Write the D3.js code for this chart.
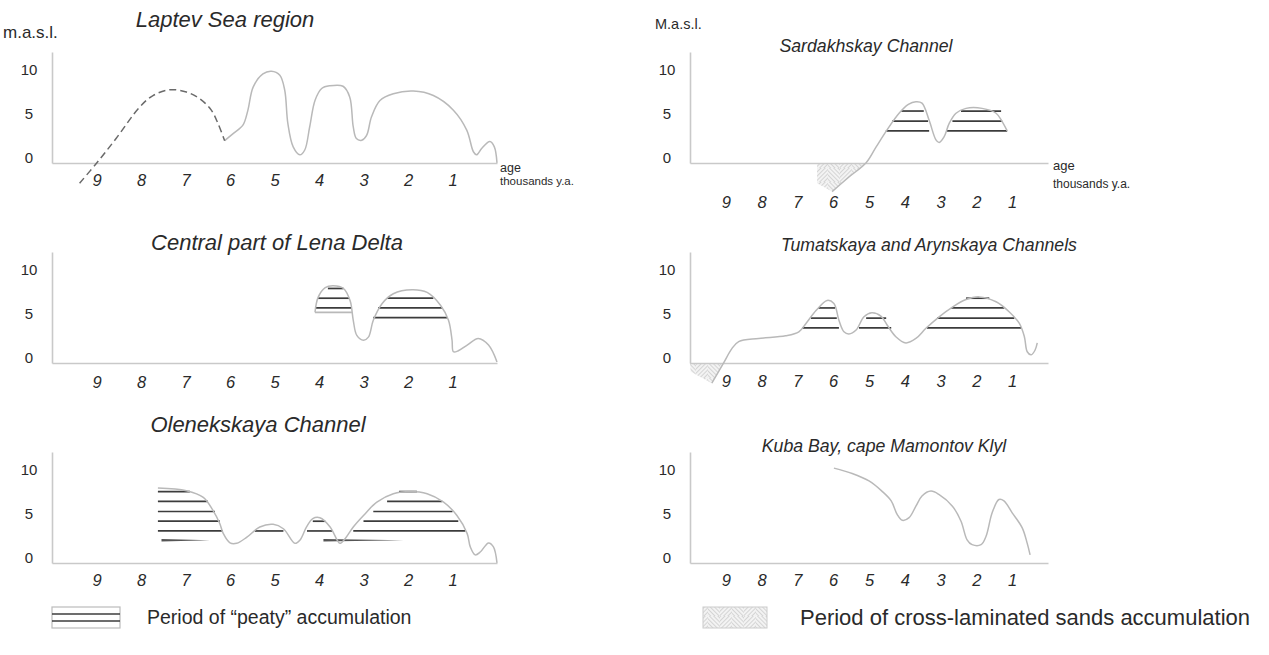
<!DOCTYPE html>
<html><head><meta charset="utf-8">
<script src="https://cdn.jsdelivr.net/npm/d3@7"></script>
<style>
body{margin:0;background:#fff;}
svg{display:block;font-family:"Liberation Sans",Arial,Helvetica,sans-serif;}
</style></head><body>
<svg id="c" width="1269" height="655"></svg>
<script>
// ---------------- data ----------------
const ageTicks = [9,8,7,6,5,4,3,2,1];
const levelTicks = [0,5,10];
const panelTitles = ["Laptev Sea region","Central part of Lena Delta","Olenekskaya Channel",
  "Sardakhskay Channel","Tumatskaya and Arynskaya Channels","Kuba Bay, cape Mamontov Klyl"];
const legendLabels = ["Period of \u201cpeaty\u201d accumulation","Period of cross-laminated sands accumulation"];

// [age (thousands y.a.), level (m.a.s.l.)]
const laptevDashed = [[9.38,-2.9],[9.0,-0.65],[8.56,2.15],[8.03,5.7],[7.73,7.0],[7.36,7.65],[6.98,7.4],[6.68,6.65],[6.42,5.35],[6.27,3.85],[6.12,1.9]];
const laptevCurve = [[6.12,1.9],[5.93,2.7],[5.71,3.65],[5.6,5.3],[5.48,7.95],[5.26,9.45],[5.07,9.75],[4.88,9.3],[4.77,7.6],[4.7,3.85],[4.58,1.2],[4.43,0.3],[4.32,0.85],[4.21,3.45],[4.09,6.45],[3.94,7.8],[3.76,8.1],[3.46,8.05],[3.31,6.85],[3.23,3.45],[3.16,2.15],[3.04,1.95],[2.93,2.5],[2.82,4.6],[2.63,6.45],[2.33,7.2],[1.88,7.5],[1.43,7.0],[0.98,5.35],[0.68,3.1],[0.53,0.65],[0.46,0.3],[0.34,1.05],[0.16,1.8],[0.06,1.2],[0.0,-0.6]];

const lenaCurve = [[4.09,5.1],[4.02,6.8],[3.86,7.9],[3.68,8.1],[3.45,7.8],[3.30,6.4],[3.23,4.2],[3.15,2.5],[3.0,1.95],[2.89,2.3],[2.78,4.2],[2.58,6.1],[2.33,7.2],[1.91,7.65],[1.57,7.35],[1.27,5.9],[1.09,4.2],[1.01,1.95],[0.98,0.65],[0.87,0.76],[0.67,1.4],[0.42,2.15],[0.19,1.4],[0.0,-0.5]];
const lenaBase = [[5.1,4.09,3.26]];
const lenaHatch = [[7.8,3.8,3.45],[6.7,4.02,3.32],[5.6,4.09,3.26],[6.7,2.47,1.43],[5.6,2.67,1.23],[4.5,2.78,1.12]];

const olenekCurve = [[7.62,7.85],[6.98,7.55],[6.6,6.8],[6.38,5.3],[6.23,3.85],[6.15,2.7],[6.0,1.65],[5.85,1.6],[5.62,2.3],[5.33,3.45],[5.03,3.75],[4.8,3.25],[4.54,1.6],[4.43,1.95],[4.28,3.45],[4.14,4.4],[3.98,4.5],[3.75,3.45],[3.59,1.95],[3.53,1.6],[3.41,2.15],[3.23,3.45],[3.0,4.75],[2.7,6.25],[2.33,7.2],[1.95,7.45],[1.57,7.2],[1.2,6.25],[0.9,4.75],[0.67,2.7],[0.6,1.2],[0.49,0.3],[0.37,0.65],[0.19,1.65],[0.08,1.2],[0.0,-0.6]];
const olenekHatch = [[7.45,7.62,6.9],[6.35,7.62,6.5],[5.2,7.62,6.34],[4.1,7.62,6.23],[3.0,7.62,6.16],
  [3.0,5.44,4.8],[3.0,4.27,3.7],[4.1,4.14,3.86],
  [7.45,2.2,1.8],[6.35,2.47,1.23],[5.2,2.78,1.0],[4.1,3.0,0.87],[3.0,3.23,0.71]];
const olenekTaper = [[1.95,7.54,6.45],[1.95,3.9,2.1]];

const sardCurve = [[6.03,-3.85],[5.56,-2.2],[5.08,-0.6],[4.8,1.2],[4.5,3.1],[4.16,5.0],[3.9,6.0],[3.69,6.3],[3.52,6.15],[3.32,4.2],[3.13,2.0],[3.04,1.7],[2.9,2.35],[2.76,3.85],[2.57,5.0],[2.29,5.55],[1.84,5.55],[1.45,5.0],[1.28,4.05],[1.14,3.0]];
const sardHatch = [[5.25,4.1,3.47],[4.1,4.35,3.35],[3.0,4.53,3.32],[5.25,2.43,1.31],[4.1,2.67,1.28],[3.0,2.82,1.14]];
const sardSands = [[6.45,-0.62],[5.1,-0.62],[6.03,-3.85],[6.45,-2.9]];

const tumatCurve = [[9.39,-2.9],[9.06,-0.6],[8.83,1.0],[8.64,1.8],[8.08,2.15],[7.33,2.45],[6.96,2.9],[6.76,3.85],[6.48,5.3],[6.17,6.45],[5.98,6.1],[5.84,4.2],[5.7,2.9],[5.56,2.65],[5.36,3.1],[5.14,4.6],[4.92,5.05],[4.66,4.65],[4.49,3.65],[4.25,2.35],[3.97,1.65],[3.69,2.15],[3.41,3.3],[3.04,4.6],[2.67,5.7],[2.29,6.55],[1.92,6.85],[1.45,6.3],[1.08,5.15],[0.8,3.85],[0.66,2.35],[0.58,0.65],[0.47,0.3],[0.36,0.85],[0.3,1.65]];
const tumatHatch = [[5.6,6.42,5.95],[4.45,6.62,5.9],[3.35,6.87,5.84],[4.45,5.08,4.52],[3.35,5.28,4.38],[6.7,2.29,1.64],[5.6,2.71,1.22],[4.45,3.1,0.94],[3.35,3.38,0.75]];
const tumatSands = [[10.0,-0.62],[9.06,-0.62],[9.39,-2.9],[9.98,-1.6]];

const kubaCurve = [[5.98,10.1],[5.47,9.5],[5.0,8.65],[4.64,7.5],[4.38,6.4],[4.21,4.85],[4.07,4.2],[3.88,4.5],[3.69,5.8],[3.52,6.95],[3.27,7.5],[3.04,7.1],[2.67,5.8],[2.43,4.1],[2.26,2.0],[2.12,1.45],[1.87,1.45],[1.73,2.4],[1.56,5.05],[1.37,6.55],[1.23,6.4],[1.0,5.05],[0.72,3.35],[0.58,1.6],[0.5,0.3]];

// ---------------- layout ----------------
const svg = d3.select("#c");
const AX = "#c9c9c9", CURVE = "#b9b9b9", HATCH = "#3c3c3c", TXT = "#2a2a2a";

const defs = svg.append("defs");
function diag(id, ang){
  const p = defs.append("pattern").attr("id", id).attr("patternUnits","userSpaceOnUse")
    .attr("width",3).attr("height",3).attr("patternTransform",`rotate(${ang})`);
  p.append("line").attr("x1",0).attr("y1",0).attr("x2",0).attr("y2",3)
    .attr("stroke","#9a9a9a").attr("stroke-width",0.7);
}
diag("diagA",45); diag("diagB",-45);
const px = defs.append("pattern").attr("id","xlam").attr("patternUnits","userSpaceOnUse")
  .attr("width",24).attr("height",14);
px.append("rect").attr("width",24).attr("height",14).attr("fill","#f3f3f3");
px.append("rect").attr("width",12).attr("height",14).attr("fill","url(#diagA)");
px.append("rect").attr("x",12).attr("width",12).attr("height",14).attr("fill","url(#diagB)");

const cols = {left:{x0:52,x1:497,tf:22}, right:{x0:690,x1:1048,tf:17.7}};
const panels = [
  {col:"left", top:0,   title:panelTitles[0], tx:225, ty:27, tick:23, curves:[laptevCurve], dashed:laptevDashed},
  {col:"left", top:200, title:panelTitles[1], tx:277, ty:250, tick:25, curves:[lenaCurve], hatch:lenaHatch, base:lenaBase},
  {col:"left", top:400, title:panelTitles[2], tx:258, ty:432, tick:23, curves:[olenekCurve], hatch:olenekHatch, taper:olenekTaper},
  {col:"right",top:0,   title:panelTitles[3], tx:866, ty:52, tick:45, curves:[sardCurve], hatch:sardHatch, sands:sardSands},
  {col:"right",top:200, title:panelTitles[4], tx:929, ty:251, tick:24, curves:[tumatCurve], hatch:tumatHatch, sands:tumatSands},
  {col:"right",top:400, title:panelTitles[5], tx:884, ty:452, tick:23, curves:[kubaCurve]}
];

panels.forEach(p => {
  const c = cols[p.col];
  const x = d3.scaleLinear().domain([10,0]).range([c.x0, c.x1]);
  const y = d3.scaleLinear().domain([-0.62, 11.92]).range([p.top+163, p.top+52]);
  const g = svg.append("g");
  const line = d3.line().x(d => x(d[0])).y(d => y(d[1])).curve(d3.curveCatmullRom.alpha(0.5));

  if (p.sands) {
    g.append("path").attr("d", d3.line().x(d=>x(d[0])).y(d=>y(d[1]))(p.sands) + "Z")
      .attr("fill","url(#xlam)").attr("stroke","none");
  }

  const xa = g.append("g").attr("transform",`translate(0,${y(-0.62)})`)
    .call(d3.axisBottom(x).tickValues(ageTicks).tickSize(0).tickFormat(d3.format("d")));
  xa.select(".domain").attr("stroke",AX).attr("stroke-width",1.6);
  xa.selectAll("text").attr("y",p.tick).attr("dy",0).attr("fill",TXT)
    .attr("font-size",16.5).attr("font-style","italic").attr("font-family","Liberation Sans, Arial, sans-serif");

  const ya = g.append("g").attr("transform",`translate(${c.x0},0)`)
    .call(d3.axisLeft(y).tickValues(levelTicks).tickSize(0).tickFormat(d3.format("d")));
  ya.select(".domain").attr("stroke",AX).attr("stroke-width",1.6);
  ya.selectAll("text").attr("x",-23).attr("dy","0.35em").attr("text-anchor","middle")
    .attr("fill",TXT).attr("font-size",15).attr("font-family","Liberation Sans, Arial, sans-serif");

  (p.base||[]).forEach(h => g.append("line").attr("x1",x(h[1])).attr("x2",x(h[2]))
    .attr("y1",y(h[0])).attr("y2",y(h[0])).attr("stroke",CURVE).attr("stroke-width",1.6));
  (p.hatch||[]).forEach(h => g.append("line").attr("x1",x(h[1])).attr("x2",x(h[2]))
    .attr("y1",y(h[0])).attr("y2",y(h[0])).attr("stroke",HATCH).attr("stroke-width",1.7));
  (p.taper||[]).forEach(h => {
    const yy = y(h[0]), a = x(h[1]), b = x(h[2]);
    g.append("path").attr("d",`M${a},${yy-1.2}L${b},${yy}L${a},${yy+1.2}Z`).attr("fill","#555");
  });

  p.curves.forEach(cv => g.append("path").attr("d",line(cv)).attr("fill","none")
    .attr("stroke",CURVE).attr("stroke-width",1.5));
  if (p.dashed) g.append("path").attr("d",line(p.dashed)).attr("fill","none")
    .attr("stroke","#6a6a6a").attr("stroke-width",1.5).attr("stroke-dasharray","7,4");

  g.append("text").attr("x",p.tx).attr("y",p.ty).attr("text-anchor","middle")
    .attr("font-size",c.tf).attr("font-style","italic").attr("fill",TXT).text(p.title);
});

// axis captions
svg.append("text").attr("x",3).attr("y",38).attr("font-size",17).attr("fill",TXT).text("m.a.s.l.");
svg.append("text").attr("x",655).attr("y",29).attr("font-size",14.5).attr("fill",TXT).text("M.a.s.l.");
[[500,172,185,11.5],[1053,170,188,12]].forEach(a => {
  svg.append("text").attr("x",a[0]).attr("y",a[1]).attr("font-size",a[3]+1).attr("fill",TXT).text("age");
  svg.append("text").attr("x",a[0]).attr("y",a[2]).attr("font-size",a[3]).attr("fill",TXT).text("thousands y.a.");
});

// legend
const lg = svg.append("g");
const ly = 607, lh = 21;
lg.append("rect").attr("x",52).attr("y",ly).attr("width",68).attr("height",lh)
  .attr("fill","#fff").attr("stroke","#bbb").attr("stroke-width",1.2);
[7,14].forEach(o => lg.append("line").attr("x1",52).attr("x2",120).attr("y1",ly+o).attr("y2",ly+o)
  .attr("stroke",HATCH).attr("stroke-width",1.6));
lg.append("text").attr("x",147).attr("y",ly+17).attr("font-size",19.5).attr("fill",TXT).text(legendLabels[0]);
lg.append("rect").attr("x",703).attr("y",ly).attr("width",64).attr("height",lh)
  .attr("fill","url(#xlam)").attr("stroke","#ccc").attr("stroke-width",1);
lg.append("text").attr("x",800).attr("y",ly+18).attr("font-size",22).attr("fill",TXT).text(legendLabels[1]);
</script>
</body></html>
